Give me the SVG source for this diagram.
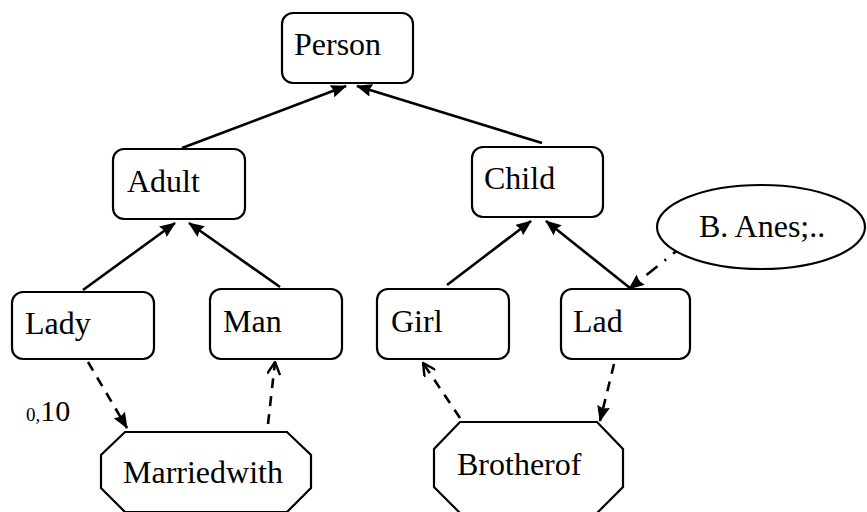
<svg xmlns="http://www.w3.org/2000/svg" width="867" height="512" viewBox="0 0 867 512">
  <style>
    .box { fill: #ffffff; stroke: #000000; stroke-width: 2.2; }
    .lbl { font-family: "Liberation Serif", "Times New Roman", "DejaVu Serif", serif; font-size: 32px; fill: #000000; }
    .edge { stroke: #000000; stroke-width: 2.6; fill: none; }
    .dash { stroke-dasharray: 10 8; }
    .dashdot { stroke-dasharray: 14 9 2 9; }
  </style>
  <defs>
    <marker id="solid" viewBox="0 0 16 13" refX="15" refY="6.5" markerWidth="16" markerHeight="13" markerUnits="userSpaceOnUse" orient="auto">
      <path d="M0,0 L16,6.5 L0,13 L2,6.5 Z" fill="#000000"/>
    </marker>
    <marker id="open" viewBox="0 0 14 14" refX="13" refY="7" markerWidth="14" markerHeight="14" markerUnits="userSpaceOnUse" orient="auto">
      <path d="M0.5,0.5 L13,7 L0.5,13.5" fill="none" stroke="#000000" stroke-width="2.4"/>
    </marker>
  </defs>

  <g id="connectors">
    <line class="edge" x1="182" y1="148" x2="346" y2="86" marker-end="url(#solid)"/>
    <line class="edge" x1="542" y1="143" x2="357" y2="86" marker-end="url(#solid)"/>
    <line class="edge" x1="83" y1="290" x2="175" y2="223" marker-end="url(#solid)"/>
    <line class="edge" x1="280" y1="287" x2="189" y2="223" marker-end="url(#solid)"/>
    <line class="edge" x1="447" y1="285" x2="531" y2="221" marker-end="url(#solid)"/>
    <line class="edge" x1="630" y1="288" x2="546" y2="221" marker-end="url(#solid)"/>
    <line class="edge dashdot" x1="684" y1="245" x2="629" y2="289" marker-end="url(#solid)"/>
    <line class="edge dash" x1="88" y1="362" x2="127" y2="428" marker-end="url(#solid)"/>
    <line class="edge dash" x1="268" y1="424" x2="275" y2="362" marker-end="url(#open)"/>
    <line class="edge dash" x1="460" y1="418" x2="423" y2="363" marker-end="url(#open)"/>
    <line class="edge dash" x1="614" y1="364" x2="600" y2="421" marker-end="url(#solid)"/>
  </g>

  <g id="person">
    <rect class="box" x="282" y="13" width="131" height="70" rx="11"/>
    <text class="lbl" x="294" y="55">Person</text>
  </g>
  <g id="adult">
    <rect class="box" x="113" y="149" width="132" height="70" rx="11"/>
    <text class="lbl" x="127" y="192">Adult</text>
  </g>
  <g id="child">
    <rect class="box" x="472" y="147" width="131" height="70" rx="11"/>
    <text class="lbl" x="484" y="189">Child</text>
  </g>
  <g id="lady">
    <rect class="box" x="12" y="292" width="142" height="67" rx="11"/>
    <text class="lbl" x="25" y="334">Lady</text>
  </g>
  <g id="man">
    <rect class="box" x="210" y="289" width="132" height="70" rx="11"/>
    <text class="lbl" x="223" y="332">Man</text>
  </g>
  <g id="girl">
    <rect class="box" x="377" y="289" width="132" height="70" rx="11"/>
    <text class="lbl" x="391" y="332">Girl</text>
  </g>
  <g id="lad">
    <rect class="box" x="561" y="289" width="129" height="70" rx="11"/>
    <text class="lbl" x="573" y="332">Lad</text>
  </g>
  <g id="banes">
    <ellipse class="box" cx="761" cy="227" rx="104" ry="42"/>
    <text class="lbl" x="699" y="237">B. Anes;..</text>
  </g>
  <g id="marriedwith">
    <polygon class="box" points="125,432 287,432 311,455 311,488 287,512 125,512 101,488 101,455"/>
    <text class="lbl" x="123" y="483">Marriedwith</text>
  </g>
  <g id="brotherof">
    <polygon class="box" points="460,422 597,422 623,449 623,487 597,513 460,513 434,487 434,449"/>
    <text class="lbl" x="457" y="475">Brotherof</text>
  </g>
  <g id="cardinality">
    <text x="26" y="421" font-family="'Liberation Serif', 'Times New Roman', serif" fill="#000000"><tspan font-size="19px">0,</tspan><tspan font-size="30px">10</tspan></text>
  </g>
</svg>
